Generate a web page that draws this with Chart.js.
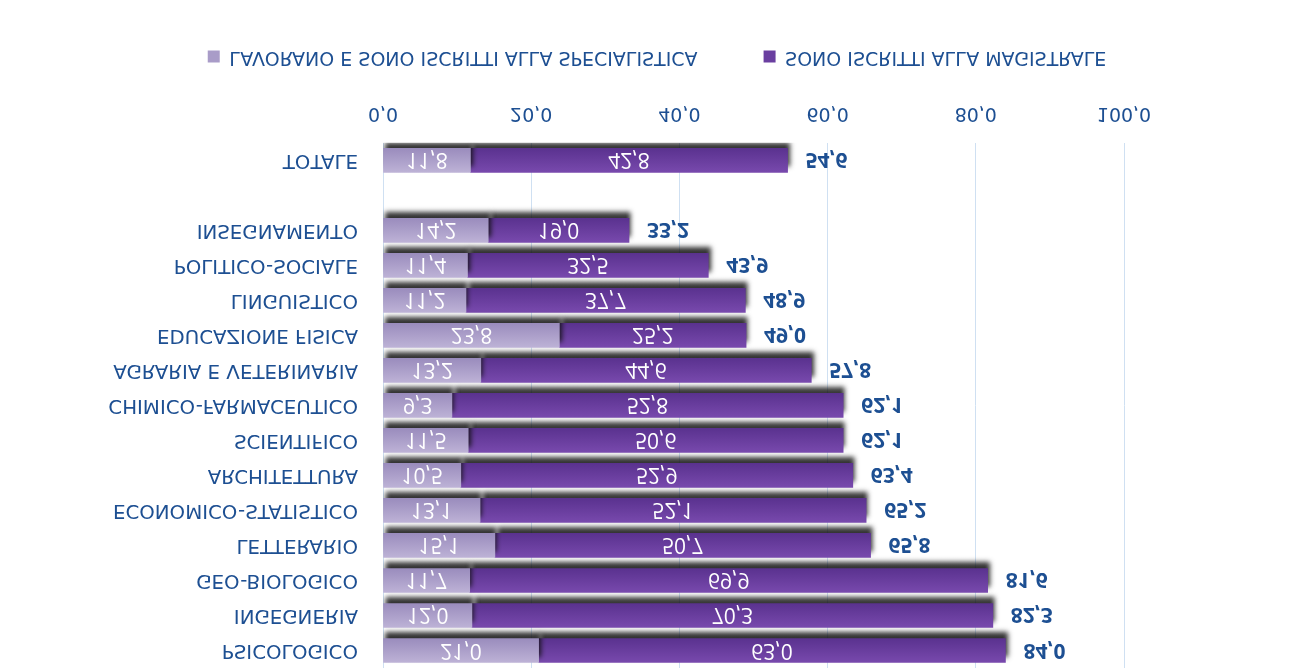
<!DOCTYPE html>
<html>
<head>
<meta charset="utf-8">
<script src="https://cdn.jsdelivr.net/npm/chart.js@4.4.1/dist/chart.umd.min.js"></script>
<style>
  html, body { margin: 0; padding: 0; background: #fff; }
  #wrap { width: 1297px; height: 671px; }
  /* the reference picture is mirrored top-to-bottom */
  #myChart { transform: scaleY(-1); }
</style>
</head>
<body>
<div id="wrap"><canvas id="myChart" width="1297" height="671"></canvas></div>
<script>
// data (top to bottom before mirroring)
const categories = [
  "PSICOLOGICO", "INGEGNERIA", "GEO-BIOLOGICO", "LETTERARIO",
  "ECONOMICO-STATISTICO", "ARCHITETTURA", "SCIENTIFICO",
  "CHIMICO-FARMACEUTICO", "AGRARIA E VETERINARIA", "EDUCAZIONE FISICA",
  "LINGUISTICO", "POLITICO-SOCIALE", "INSEGNAMENTO", "", "TOTALE"
];
const lavoranoSpec = [21.0, 12.0, 11.7, 15.1, 13.1, 10.5, 11.5, 9.3, 13.2, 23.8, 11.2, 11.4, 14.2, null, 11.8];
const iscrittiMag  = [63.0, 70.3, 69.9, 50.7, 52.1, 52.9, 50.6, 52.8, 44.6, 25.2, 37.7, 32.5, 19.0, null, 42.8];
const totali       = [84.0, 82.3, 81.6, 65.8, 65.2, 63.4, 62.1, 62.1, 57.8, 49.0, 48.9, 43.9, 33.2, null, 54.6];
const xTicks = [0, 20, 40, 60, 80, 100];
const seriesNames = ["LAVORANO E SONO ISCRITTI ALLA SPECIALISTICA", "SONO ISCRITTI ALLA MAGISTRALE"];

const blue = "#1d4f92";
const fmt = v => v.toFixed(1).replace(".", ",");

function barGradient(solid, light, dark) {
  return (ctx) => {
    const chart = ctx.chart;
    if (ctx.type !== "data" || !chart.chartArea || !chart.scales.y) return solid;
    const py = chart.scales.y.getPixelForValue(ctx.dataIndex);
    const g = chart.ctx.createLinearGradient(0, py - 12, 0, py + 12);
    g.addColorStop(0, light);
    g.addColorStop(1, dark);
    return g;
  };
}

// drop shadow under the bars + value labels
const barExtras = {
  id: "barExtras",
  afterLayout(chart) {
    // legend sits a bit higher and more to the right than the default box
    const lg = chart.legend;
    lg.top -= 48;
    lg.bottom -= 48;
    lg.left = 9;
    lg.right = 1305;
  },
  beforeDatasetsDraw(chart) {
    const c = chart.ctx;
    c.save();
    c.shadowColor = "rgba(15,15,15,0.85)";
    c.shadowBlur = 5;
    c.shadowOffsetX = 2;
    c.shadowOffsetY = 6;
  },
  afterDatasetsDraw(chart) {
    const c = chart.ctx;
    c.restore();
    c.save();
    c.textBaseline = "middle";
    // inner values
    c.font = "21px 'Open Sans'";
    c.fillStyle = "#ffffff";
    c.textAlign = "center";
    chart.data.datasets.forEach((ds, di) => {
      chart.getDatasetMeta(di).data.forEach((bar, i) => {
        const v = ds.data[i];
        if (v == null) return;
        c.fillText(fmt(v), (bar.x + bar.base) / 2, bar.y + 1);
      });
    });
    // totals
    const last = chart.getDatasetMeta(1).data;
    c.font = "bold 21px 'Open Sans'";
    c.fillStyle = blue;
    c.textAlign = "left";
    totali.forEach((t, i) => {
      if (t == null) return;
      c.fillText(fmt(t), last[i].x + 18, last[i].y + 1);
    });
    c.restore();
  }
};

const ctx = document.getElementById("myChart").getContext("2d");
const myChart = new Chart(ctx, {
  type: "bar",
  data: {
    labels: categories,
    datasets: [
      {
        label: seriesNames[0],
        data: lavoranoSpec,
        backgroundColor: barGradient("#a99cc8", "#bdb2d6", "#9a8cbd"),
        borderWidth: 0,
        barThickness: 24
      },
      {
        label: seriesNames[1],
        data: iscrittiMag,
        backgroundColor: barGradient("#6a3fa0", "#7849ad", "#5a328f"),
        borderWidth: 0,
        barThickness: 24
      }
    ]
  },
  options: {
    responsive: false,
    animation: false,
    indexAxis: "y",
    layout: { padding: { top: 3, right: 173, bottom: -11, left: 0 } },
    plugins: {
      legend: {
        position: "bottom",
        labels: {
          boxWidth: 12,
          boxHeight: 12,
          padding: 66,
          color: blue,
          font: { family: "'DejaVu Sans'", size: 19 },
          generateLabels(chart) {
            return chart.data.datasets.map((ds, i) => ({
              text: ds.label,
              fillStyle: i === 0 ? "#a99cc8" : "#6a3fa0",
              strokeStyle: "transparent",
              lineWidth: 0,
              fontColor: blue,
              datasetIndex: i
            }));
          }
        }
      },
      tooltip: { enabled: false }
    },
    scales: {
      x: {
        stacked: true,
        min: 0,
        max: 100,
        afterBuildTicks(s) { s.ticks = xTicks.map(v => ({ value: v })); },
        grid: { color: "#cfe0f2", lineWidth: 1, drawTicks: false },
        border: { display: false },
        ticks: {
          padding: 18,
          color: blue,
          font: { family: "'DejaVu Sans'", size: 19 },
          callback: v => fmt(v)
        }
      },
      y: {
        stacked: true,
        afterFit(s) { s.width = 383; s.paddingTop = 0; s.paddingBottom = 0; },
        grid: { display: false, drawTicks: false },
        border: { display: false },
        ticks: {
          padding: 25,
          autoSkip: false,
          color: blue,
          font: { family: "'DejaVu Sans'", size: 19.8 }
        }
      }
    }
  },
  plugins: [barExtras]
});
</script>
</body>
</html>
